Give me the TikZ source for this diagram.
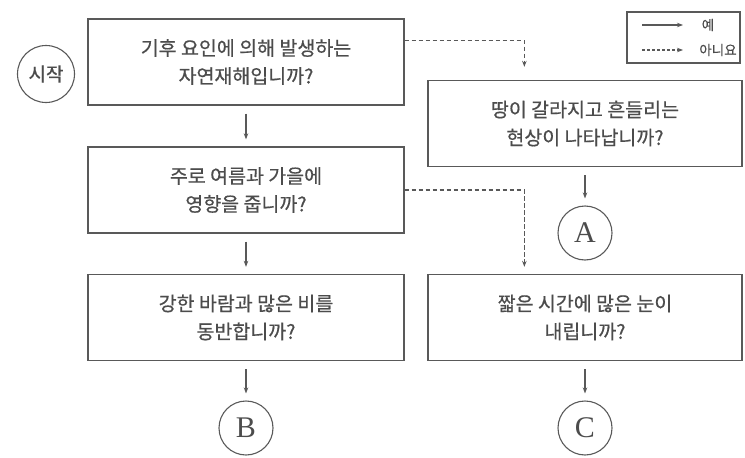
\documentclass[tikz,border=0pt]{standalone}
\usepackage{fontspec}
\setmainfont{Noto Sans CJK KR}
\newfontfamily\qfont[FakeBold=0.6]{Noto Sans CJK KR}
\newfontfamily\serifA{Liberation Serif}
\usetikzlibrary{arrows.meta,calc}
\definecolor{linegray}{gray}{0.35}
\definecolor{txtgray}{gray}{0.3}
\begin{document}
\begin{tikzpicture}[x=1pt,y=-1pt,
 qbox/.style={draw=linegray, line width=1.3pt, minimum width=316pt, minimum height=86pt, align=center, font=\qfont\fontsize{19.5}{28}\selectfont, text=txtgray, inner sep=0pt},
 endc/.style={draw=linegray, line width=1.1pt, circle, minimum size=54pt, inner sep=0pt, text=txtgray, font=\serifA\fontsize{30}{30}\selectfont},
 yesarr/.style={draw=linegray, line width=1.2pt, -{Stealth[length=6pt,width=4.5pt]}},
 noarr/.style={yesarr, line width=1.4pt, dash pattern=on 4.5pt off 2.5pt},
 lbl/.style={text=txtgray, font=\qfont\fontsize{13.5}{13.5}\selectfont, inner sep=0pt}]
\useasboundingbox (0,0) rectangle (745,458);
% start
\node[draw=linegray, line width=1.1pt, circle, minimum size=57pt, inner sep=0pt, text=txtgray, font=\qfont\fontsize{19}{19}\selectfont] (start) at (46,74) {시작};
% questions
\node[qbox] (q1) at (246,62) {기후 요인에 의해 발생하는\\자연재해입니까?};
\node[qbox] (q2) at (246,190) {주로 여름과 가을에\\영향을 줍니까?};
\node[qbox] (q3) at (246,317.5) {강한 바람과 많은 비를\\동반합니까?};
\node[qbox, minimum width=314pt] (q4) at (585,123.5) {땅이 갈라지고 흔들리는\\현상이 나타납니까?};
\node[qbox, minimum width=314pt] (q5) at (585,317.5) {짧은 시간에 많은 눈이\\내립니까?};
% ends
\node[endc] (A) at (585,233) {A};
\node[endc] (B) at (246,428) {B};
\node[endc] (C) at (585,428) {C};
% yes arrows
\draw[yesarr, shorten <=8pt, shorten >=7pt] (q1) -- (q2);
\draw[yesarr, shorten <=8pt, shorten >=7pt] (q2) -- (q3);
\draw[yesarr, shorten <=8pt, shorten >=7pt] (q3) -- (B);
\draw[yesarr, shorten <=8pt, shorten >=7pt] (q4) -- (A);
\draw[yesarr, shorten <=8pt, shorten >=7pt] (q5) -- (C);
% no arrows
\draw[noarr, shorten >=13pt] ($(q1.north east)+(0,22)$) -| ($(q4.north west)+(97,0)$);
\draw[noarr, shorten >=7pt] (q2.east) -| ($(q5.north west)+(97,0)$);
% legend
\node[draw=linegray, line width=1.2pt, minimum width=113pt, minimum height=51pt, inner sep=0pt] (legend) at (683.5,37.5) {};
\coordinate (ys) at (642,25);
\coordinate (ye) at (683,25);
\coordinate (ns) at (642,50);
\coordinate (ne) at (683,50);
\node[lbl] (yeslbl) at (708,25) {예};
\node[lbl] (nolbl) at (718,50) {아니요};
\draw[yesarr, line width=1.1pt] (ys) -- (ye);
\draw[noarr, line width=1.2pt, dash pattern=on 3pt off 2pt] (ns) -- (ne);
\end{tikzpicture}
\end{document}
